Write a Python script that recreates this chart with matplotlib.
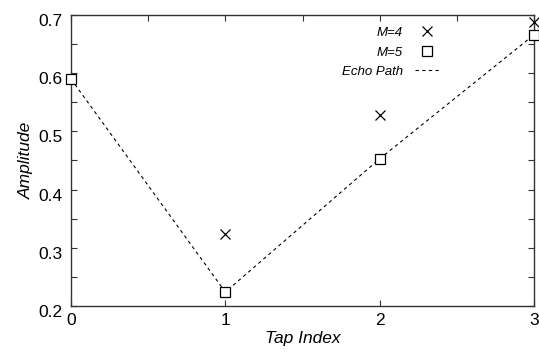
import matplotlib
matplotlib.use("Agg")
import matplotlib.pyplot as plt
from matplotlib.ticker import MultipleLocator
from matplotlib.transforms import ScaledTranslation

plt.rcParams['font.family'] = ['Liberation Sans', 'DejaVu Sans']

taps = [0, 1, 2, 3]
m4 = [None, 0.323, 0.529, 0.688]
m5 = [0.590, 0.224, 0.453, 0.666]
echo_path = [0.590, 0.224, 0.453, 0.666]

fig = plt.figure(figsize=(5.39, 3.54), dpi=100)
ax = fig.add_axes([71/539, 1-306/354, (534-71)/539, (306-15)/354])

ax.plot(taps[1:], m4[1:], 'x', color='black', ms=6.5, mew=0.9, label='M=4', clip_on=False, zorder=3)
ax.plot(taps, m5, 's', color='black', mfc='white', ms=6.5, mew=0.9, label='M=5', clip_on=False, zorder=3)
ax.plot(taps, echo_path, '--', color='black', lw=0.8, dashes=(3, 3), label='Echo Path', zorder=2)

ax.set_xlim(0, 3)
ax.set_ylim(0.2, 0.7)
ax.set_xticks(taps)
ax.xaxis.set_minor_locator(MultipleLocator(0.5))
ax.set_yticks([0.2, 0.3, 0.4, 0.5, 0.6, 0.7])
ax.set_yticklabels(['0.2', '0.3', '0.4', '0.5', '0.6', '0.7'])
ax.yaxis.set_minor_locator(MultipleLocator(0.05))

ax.tick_params(which='both', direction='in', length=4, width=0.8, color='#333333',
               labelsize=12.5, top=True, right=True)
ax.tick_params(axis='x', which='minor', bottom=False, top=True)
ax.tick_params(axis='x', pad=5)
ax.tick_params(axis='y', pad=6)
for s in ax.spines.values():
    s.set_linewidth(1.0)
    s.set_color('#333333')

# matlab export puts the y labels a bit low
shift = ScaledTranslation(0, -5/100, fig.dpi_scale_trans)
for lab in ax.get_yticklabels():
    lab.set_transform(lab.get_transform() + shift)

ax.set_xlabel('Tap Index', fontsize=12.5, style='italic', labelpad=2)
ax.set_ylabel('Amplitude', fontsize=12.5, style='italic', labelpad=3)

ax.legend(loc='upper right', bbox_to_anchor=(0.82, 1.0), frameon=False, markerfirst=False,
          prop={'size': 9.5, 'style': 'italic'}, handlelength=1.8, labelspacing=0.55,
          handletextpad=0.9)

fig.savefig('out.png', dpi=100)
